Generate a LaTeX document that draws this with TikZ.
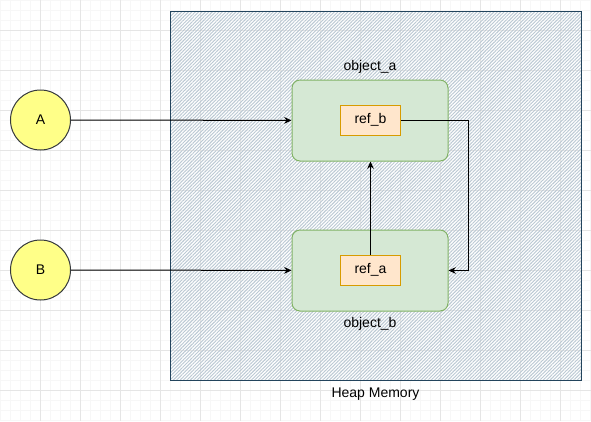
\documentclass[tikz,border=0pt]{standalone}
\usepackage{fontspec}
\setmainfont{Liberation Sans}
\usetikzlibrary{arrows.meta,patterns.meta,positioning}

\definecolor{heapdraw}{HTML}{23445D}
\definecolor{heapfill}{HTML}{BAC8D3}
\definecolor{objfill}{HTML}{D5E8D4}
\definecolor{objdraw}{HTML}{82B366}
\definecolor{reffill}{HTML}{FFE6CC}
\definecolor{refdraw}{HTML}{D79B00}
\definecolor{varfill}{HTML}{FFFF88}
\definecolor{vardraw}{HTML}{36393D}

\begin{document}
\begin{tikzpicture}[x=0.75pt,y=-0.75pt,font=\fontsize{10.5}{12}\selectfont]
    \tikzset{minorgrid/.style={draw=black!3, line width=0.75pt},
             majorgrid/.style={draw=black!10, line width=0.75pt},
             heapbox/.style={draw=heapdraw, line width=0.75pt, minimum width=308.25pt, minimum height=276.75pt,
                             pattern={Lines[angle=45,distance=1.8pt,line width=0.7pt]}, pattern color=heapfill},
             objbox/.style={draw=objdraw, fill=objfill, rounded corners=6pt, line width=0.75pt,
                            minimum width=117pt, minimum height=60.75pt},
             refbox/.style={draw=refdraw, fill=reffill, line width=0.75pt, minimum width=45pt, minimum height=22.5pt},
             varnode/.style={circle, draw=vardraw, fill=varfill, line width=0.75pt, minimum size=45pt, inner sep=0pt},
             link/.style={draw=black, line width=0.75pt, -{Stealth[length=5.5pt,width=5pt]}}}

    \useasboundingbox (0,0) rectangle (591,421);
    \fill[white] (0,0) rectangle (591,421);

    % background grid
    \foreach \x in {0,10,...,590} \draw[minorgrid] (\x,0) -- (\x,421);
    \foreach \y in {0,10,...,420} \draw[minorgrid] (0,\y) -- (591,\y);
    \foreach \x in {40,80,...,560} \draw[majorgrid] (\x,0) -- (\x,421);
    \foreach \y in {30,70,...,390} \draw[majorgrid] (0,\y) -- (591,\y);

    % heap
    \node[heapbox] (heap) at (375.5,195.5) {};
    \node[below=2pt of heap] (heaplabel) {Heap Memory};

    % objects
    \node[objbox] (obja) at (370,120.5) {};
    \node[objbox] (objb) at (370,270.5) {};
    \node[above=1pt of obja] (objalabel) {object\_a};
    \node[below=1pt of objb] (objblabel) {object\_b};
    \node[refbox] (refb) at (370.5,120) {ref\_b};
    \node[refbox] (refa) at (370.5,270) {ref\_a};

    % variables
    \node[varnode] (A) at (40.5,120) {A};
    \node[varnode] (B) at (40.5,270) {B};

    \draw[link] (A) -- (obja);
    \draw[link] (B) -- (objb);
    \draw[link] (refa) -- (refa |- obja.south);
    \draw[link] (refb.east) -- ++(67,0) |- (objb.east);
\end{tikzpicture}
\end{document}
